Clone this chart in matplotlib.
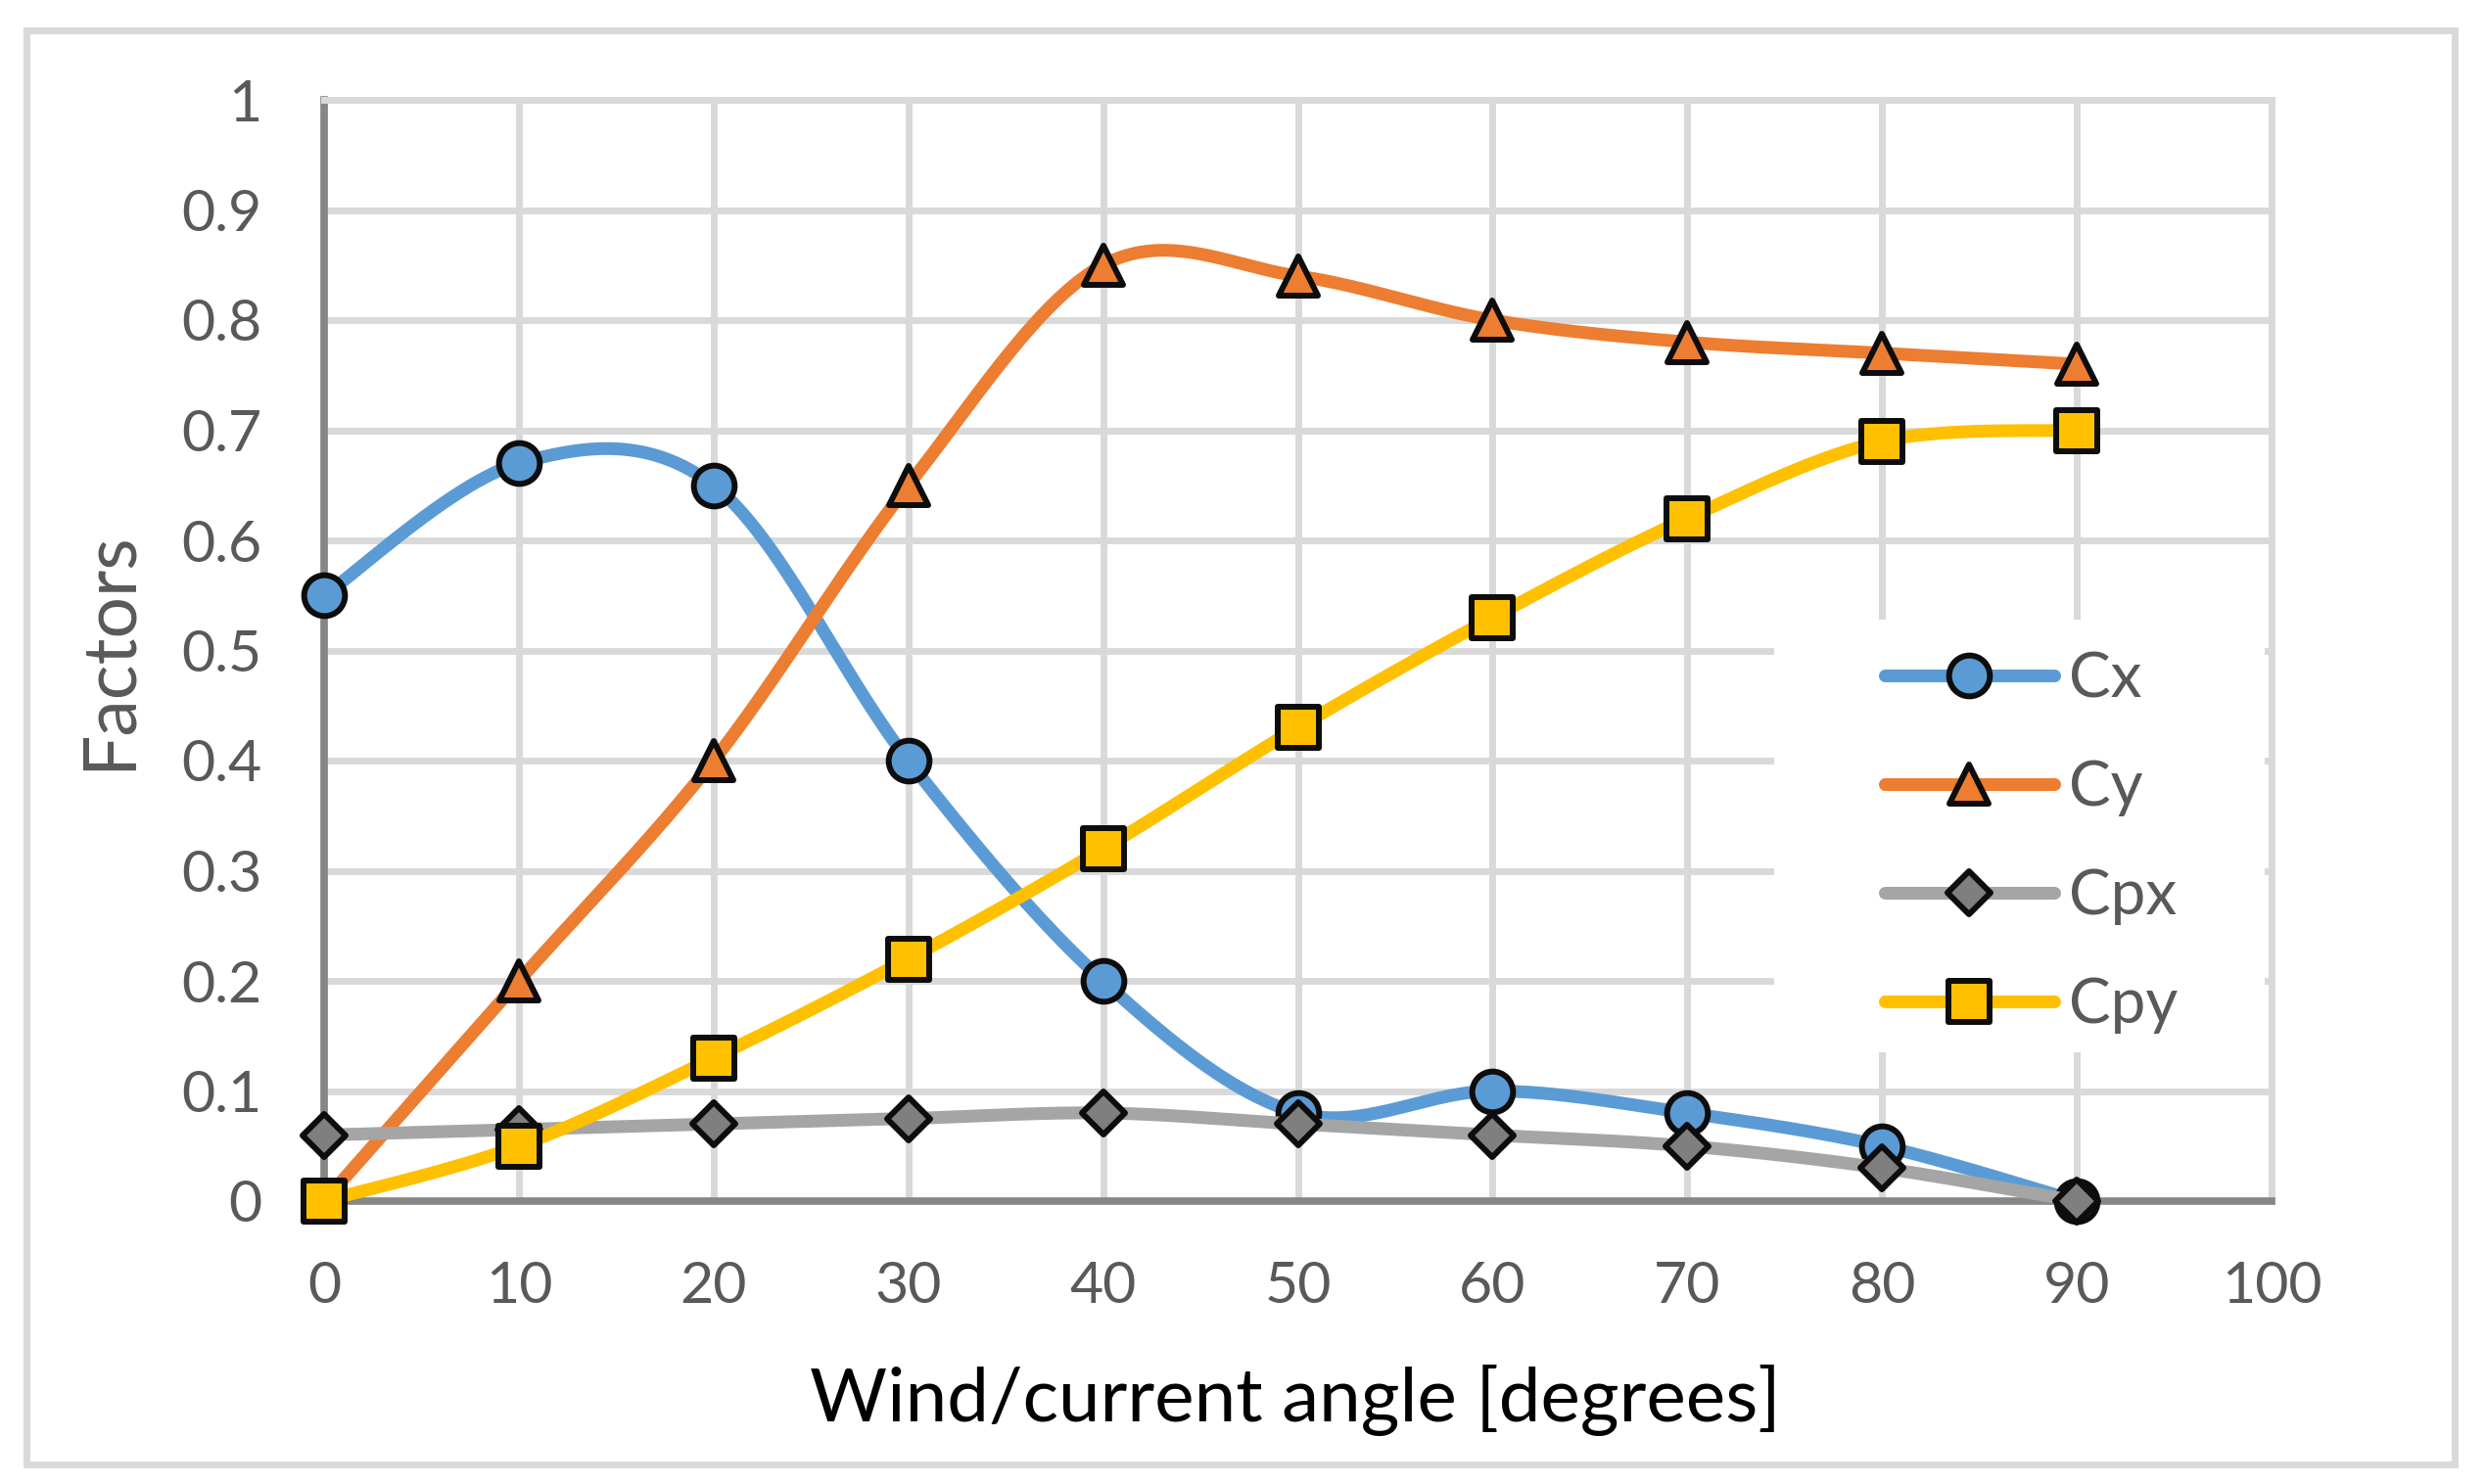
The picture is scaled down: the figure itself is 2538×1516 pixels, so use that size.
import numpy as np
import matplotlib
matplotlib.use("Agg")
import matplotlib.pyplot as plt
from matplotlib.patches import Rectangle
from matplotlib.lines import Line2D
from matplotlib.markers import MarkerStyle

# ---- data ----
angles = [0, 10, 20, 30, 40, 50, 60, 70, 80, 90]
cx = [0.55, 0.67, 0.65, 0.40, 0.20, 0.08, 0.10, 0.08, 0.05, 0.0]
cy = [0.0, 0.20, 0.40, 0.65, 0.85, 0.84, 0.80, 0.78, 0.77, 0.76]
cpx = [0.06, 0.065, 0.07, 0.075, 0.08, 0.07, 0.06, 0.05, 0.03, 0.0]
cpy = [0.0, 0.05, 0.13, 0.22, 0.32, 0.43, 0.53, 0.62, 0.69, 0.70]
series_names = ["Cx", "Cy", "Cpx", "Cpy"]
x_ticks = [0, 10, 20, 30, 40, 50, 60, 70, 80, 90, 100]
y_ticks = [0, 0.1, 0.2, 0.3, 0.4, 0.5, 0.6, 0.7, 0.8, 0.9, 1.0]
y_tick_labels = ["0", "0.1", "0.2", "0.3", "0.4", "0.5", "0.6", "0.7", "0.8", "0.9", "1"]
x_label = "Wind/current angle [degrees]"
y_label = "Factors"


def smooth(x, y, n=60):
    """Excel-style smoothed line (Bezier / Catmull-Rom control points)."""
    pts = np.column_stack([x, y]).astype(float)
    out = []
    m = len(pts)
    t = np.linspace(0, 1, n)[:, None]
    for i in range(m - 1):
        p0 = pts[i - 1] if i > 0 else pts[i]
        p1 = pts[i]
        p2 = pts[i + 1]
        p3 = pts[i + 2] if i + 2 < m else pts[i + 1]
        c1 = p1 + (p2 - p0) / 6.0
        c2 = p2 - (p3 - p1) / 6.0
        seg = ((1 - t) ** 3) * p1 + 3 * ((1 - t) ** 2) * t * c1 + 3 * (1 - t) * t ** 2 * c2 + t ** 3 * p2
        out.append(seg if i == 0 else seg[1:])
    arr = np.vstack(out)
    return arr[:, 0], arr[:, 1]


plt.rcParams['font.family'] = ['Lato', 'DejaVu Sans']

W, H = 2538, 1516
fig = plt.figure(figsize=(W / 100, H / 100), dpi=100)
fig.patch.set_facecolor('white')

# outer chart border
fig.patches.append(Rectangle((26.5 / W, 20.5 / H), (2506.5 - 26.5) / W, (1485 - 20.5) / H,
                             transform=fig.transFigure, fill=False,
                             edgecolor='#D9D9D9', linewidth=5, zorder=0))

x0, x1 = 331, 2320
ytop, ybot = 102, 1227
ax = fig.add_axes([x0 / W, 1 - ybot / H, (x1 - x0) / W, (ybot - ytop) / H])
ax.set_xlim(0, 100)
ax.set_ylim(0, 1)
ax.set_xticks(x_ticks)
ax.set_yticks(y_ticks)
ax.set_yticklabels(y_tick_labels)
ax.tick_params(length=0, labelsize=42.5, labelcolor='#595959')
ax.tick_params(axis='y', pad=46)
ax.tick_params(axis='x', pad=44)

ax.set_axisbelow(True)
ax.grid(True, color='#D9D9D9', linewidth=5, zorder=0)
for side in ['top', 'right']:
    ax.spines[side].set_color('#D9D9D9')
    ax.spines[side].set_linewidth(5)
for side in ['left', 'bottom']:
    ax.spines[side].set_color('#868686')
    ax.spines[side].set_linewidth(5.5)
    ax.spines[side].set_zorder(2.5)

# legend background
ax.add_patch(Rectangle((0.7446, 0.135), 0.9965 - 0.7446, 0.528 - 0.135, transform=ax.transAxes,
                       facecolor='white', edgecolor='none', zorder=1.5))

line_colors = ['#5B9BD5', '#ED7D31', '#A5A5A5', '#FFC000']
fill_colors = ['#5B9BD5', '#ED7D31', '#7F7F7F', '#FFC000']
markers = ['o', '^', 'D', 's']
msizes = [30, 29, 22, 30]
edge = '#0D0D0D'
data = [cx, cy, cpx, cpy]

handles = []
for i, (vals, name) in enumerate(zip(data, series_names)):
    sx, sy = smooth(angles, vals)
    mk = MarkerStyle(markers[i], joinstyle='round')
    ax.plot(sx, sy, color=line_colors[i], linewidth=9.4, solid_capstyle='round',
            zorder=3 + 2 * i, clip_on=False)
    ax.plot(angles, vals, linestyle='none', marker=mk, markersize=msizes[i],
            markerfacecolor=fill_colors[i], markeredgecolor=edge, markeredgewidth=4.3,
            zorder=4 + 2 * i, clip_on=False)
    h = Line2D([0], [0], color=line_colors[i], linewidth=9.4, solid_capstyle='round',
               marker=MarkerStyle(markers[i], joinstyle='round'), markersize=msizes[i],
               markerfacecolor=fill_colors[i], markeredgecolor=edge, markeredgewidth=4.3)
    handles.append(h)

leg = ax.legend(handles, series_names, loc='upper left',
                bbox_to_anchor=(1925 / W, 1 - 665 / H), bbox_transform=fig.transFigure,
                frameon=False, fontsize=46, handlelength=2.7, handletextpad=0.24,
                labelspacing=0.83, borderpad=0, borderaxespad=0, labelcolor='#595959')
leg.set_zorder(20)

fig.text(1323 / W, 1 - 1452 / H, x_label, ha='center', va='baseline', fontsize=55, color='#000000')
fig.text(111 / W, 1 - 665 / H, y_label, ha='center', va='center', rotation=90, fontsize=54,
         color='#595959')

fig.savefig('out.png', dpi=100, facecolor='white')
